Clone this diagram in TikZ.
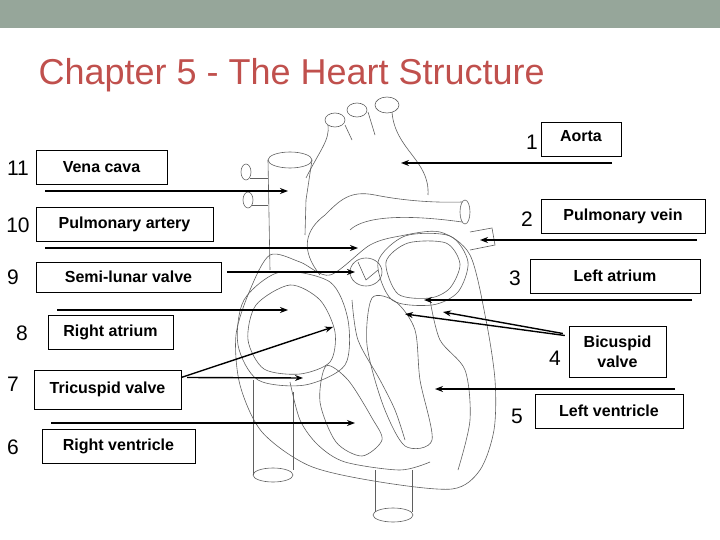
\documentclass[tikz,border=0pt]{standalone}
\usepackage{fontspec}
\setmainfont{Liberation Sans}
\usetikzlibrary{arrows.meta}
\definecolor{barcol}{RGB}{150,166,154}
\definecolor{titlecol}{RGB}{192,80,77}
\definecolor{heartcol}{RGB}{95,95,95}
\tikzset{
  lbl/.style={draw, thin, minimum height=34pt, inner xsep=6pt, font=\bfseries\fontsize{16}{18}\selectfont, align=center},
  num/.style={font=\fontsize{21}{22}\selectfont},
  pointer/.style={line width=1.4pt, -{Stealth[length=8pt,width=6pt]}},
  organ/.style={heartcol, line width=0.6pt}
}
\begin{document}
\begin{tikzpicture}[x=1pt,y=-1pt]
  \useasboundingbox (0,0) rectangle (720,540);
  % Header
  \fill[barcol] (0,0) rectangle (720,28);
  \node[titlecol, anchor=west, font=\fontsize{36}{40}\selectfont] (title) at (35,75) {Chapter 5 - The Heart Structure};

  % Heart outline
  \draw[organ] plot[smooth cycle] coordinates {(270,255) (250,290) (236,335) (240,385) (262,432) (310,466) (380,482) (452,489) (480,470) (494,430) (495,380) (486,320) (470,255) (440,232) (400,236) (370,245) (330,275) (300,262)};
  % Right atrium
  \draw[organ] plot[smooth cycle] coordinates {(244,300) (280,272) (330,282) (348,320) (345,365) (305,385) (258,380) (238,345)};
  \draw[organ] plot[smooth cycle] coordinates {(256,305) (290,285) (320,300) (335,332) (330,362) (300,374) (264,369) (248,340)};
  % Left atrium
  \draw[organ] plot[smooth cycle] coordinates {(378,262) (405,236) (450,236) (468,262) (458,292) (432,305) (392,300)};
  \draw[organ] plot[smooth cycle] coordinates {(386,262) (408,243) (446,243) (460,264) (450,288) (430,298) (398,294)};
  % Ventricles
  \draw[organ] plot[smooth cycle] coordinates {(372,298) (396,302) (415,330) (420,380) (432,440) (405,446) (383,405) (367,345)};
  \draw[organ] plot[smooth cycle] coordinates {(326,366) (348,380) (372,418) (382,440) (362,456) (336,442) (320,402)};
  \draw[organ] plot[smooth] coordinates {(290,382) (300,420) (318,445) (345,462) (400,470) (430,462)};
  \draw[organ] plot[smooth] coordinates {(352,300) (358,340) (380,380) (395,410) (405,440)};
  \draw[organ] plot[smooth] coordinates {(430,300) (440,340) (465,370) (470,420) (458,470)};
  % Semi-lunar valve
  \draw[organ] (366,272) ellipse (16 and 14);
  \draw[organ] (358,262) -- (366,280) -- (378,270);
  % Superior vena cava
  \draw[organ] (268,160) -- (270,270);
  \draw[organ] (312,160) -- (306,200) -- (305,235);
  \draw[organ] (290,160) ellipse (22 and 8);
  \draw[organ] (246,172) ellipse (5 and 8);
  \draw[organ] (248,200) ellipse (5 and 8);
  \draw[organ] (250,178) -- (268,178);
  \draw[organ] (252,205) -- (268,205);
  % Aorta and branches
  \draw[organ] (306,178) .. controls (320,150) and (330,140) .. (328,125);
  \draw[organ] (345,125) -- (352,140);
  \draw[organ] (368,112) -- (375,135);
  \draw[organ] (392,112) .. controls (395,150) and (430,160) .. (428,195);
  \draw[organ] (335,120) ellipse (10 and 7);
  \draw[organ] (357,110) ellipse (10 and 7);
  \draw[organ] (387,105) ellipse (12 and 8);
  % Pulmonary trunk and veins
  \draw[organ] (320,275) .. controls (300,250) and (305,230) .. (325,215) .. controls (340,200) and (350,190) .. (375,195) .. controls (400,200) and (430,203) .. (462,202);
  \draw[organ] (350,230) .. controls (360,220) and (390,212) .. (462,222);
  \draw[organ] (465,212) ellipse (5 and 12);
  \draw[organ] (470,232) -- (492,228) -- (495,245) -- (470,250);
  % Vena cava inferior, descending aorta
  \draw[organ] (253,380) -- (253,475);
  \draw[organ] (293,392) -- (293,470);
  \draw[organ] (273,475) ellipse (20 and 7);
  \draw[organ] (375,470) -- (375,512);
  \draw[organ] (412,470) -- (412,512);
  \draw[organ] (393,515) ellipse (20 and 7);

  % Left labels
  \node[lbl, minimum width=131pt] (vena) at (101.5,167.5) {Vena cava};
  \node[num] (n11) at (18,168) {11};
  \node[lbl, minimum width=177pt] (partery) at (124.5,224.5) {Pulmonary artery};
  \node[num] (n10) at (18,225) {10};
  \node[lbl, minimum width=185pt, minimum height=30pt] (semi) at (128.5,277) {Semi-lunar valve};
  \node[num] (n9) at (13,277) {9};
  \node[lbl, minimum width=125pt] (ratrium) at (110.5,332) {Right atrium};
  \node[num] (n8) at (22,333) {8};
  \node[lbl, minimum width=147pt, minimum height=39pt] (tricuspid) at (107.5,389.5) {Tricuspid valve};
  \node[num] (n7) at (13,384) {7};
  \node[lbl, minimum width=153pt] (rventricle) at (118.5,446) {Right ventricle};
  \node[num] (n6) at (13,447) {6};

  % Right labels
  \node[lbl, minimum width=80pt, anchor=north] (aorta) at (581,122) {\raisebox{6pt}{Aorta}};
  \node[num] (n1) at (532,142) {1};
  \node[lbl, minimum width=164pt] (pvein) at (623,216.5) {\raisebox{2pt}{Pulmonary vein}};
  \node[num] (n2) at (527,219) {2};
  \node[lbl, minimum width=170pt] (latrium) at (615,276.5) {\raisebox{2pt}{Left atrium}};
  \node[num] (n3) at (515,278) {3};
  \node[lbl, minimum width=97pt, minimum height=51pt, font=\bfseries\fontsize{16}{20}\selectfont] (bicuspid) at (617.5,351.5) {Bicuspid\\valve};
  \node[num] (n4) at (555,358) {4};
  \node[lbl, minimum width=148pt] (lventricle) at (609,411.5) {\raisebox{2pt}{Left ventricle}};
  \node[num] (n5) at (517,416) {5};

  % Pointers
  \coordinate (t11) at (288,191);
  \coordinate (t10) at (358,248);
  \coordinate (t9) at (355,272);
  \coordinate (t8) at (288,310);
  \coordinate (t7a) at (333,327);
  \coordinate (t7b) at (303,378);
  \coordinate (t6) at (355,423);
  \coordinate (t1) at (401,163);
  \coordinate (t2) at (480,240);
  \coordinate (t3) at (424,300);
  \coordinate (t4a) at (405,314);
  \coordinate (t4b) at (443,312);
  \coordinate (t5) at (435,389);
  \draw[pointer] (45,191) -- (t11);
  \draw[pointer] (45,248) -- (t10);
  \draw[pointer] (semi.east) ++(6,-5) -- (t9);
  \draw[pointer] (57,310) -- (t8);
  \draw[pointer] (tricuspid.east) ++(0,-12) -- (t7a);
  \draw[pointer] (tricuspid.east) ++(6,-12) -- (t7b);
  \draw[pointer] (51,423) -- (t6);
  \draw[pointer] (612,163) -- (t1);
  \draw[pointer] (697,240) -- (t2);
  \draw[pointer] (692,300) -- (t3);
  \draw[pointer] (bicuspid.west) ++(-4,-16) -- (t4a);
  \draw[pointer] (bicuspid.west) ++(-6,-18) -- (t4b);
  \draw[pointer] (675,389) -- (t5);
\end{tikzpicture}
\end{document}
